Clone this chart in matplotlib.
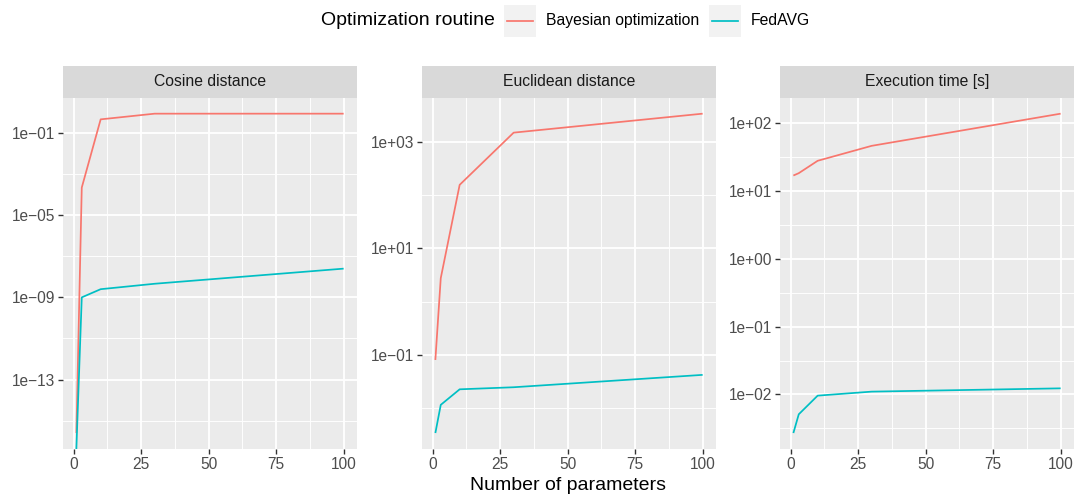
import numpy as np
import matplotlib
matplotlib.use("Agg")
import matplotlib.pyplot as plt
from matplotlib.patches import Rectangle
from matplotlib.lines import Line2D
from matplotlib.ticker import FixedLocator, NullFormatter

# ---- data ---------------------------------------------------------------
n_params = [1, 3, 10, 30, 100]
routines = ["Bayesian optimization", "FedAVG"]
colors = ["#F8766D", "#00BFC4"]
metrics = ["Cosine distance", "Euclidean distance", "Execution time [s]"]

cosine_bayes = [2.5e-16, 2.2e-4, 0.46, 0.87, 0.87]
cosine_fedavg = [0.0, 1.0e-9, 2.5e-9, 4.6e-9, 2.5e-8]
euclid_bayes = [0.08, 2.75, 155.0, 1480.0, 3360.0]
euclid_fedavg = [0.0034, 0.0115, 0.0225, 0.0246, 0.042]
time_bayes = [16.8, 18.2, 27.7, 46.0, 137.0]
time_fedavg = [0.0027, 0.0051, 0.0096, 0.011, 0.0123]

series = {
    "Cosine distance": [cosine_bayes, cosine_fedavg],
    "Euclidean distance": [euclid_bayes, euclid_fedavg],
    "Execution time [s]": [time_bayes, time_fedavg],
}

# major y breaks (log10 exponents) for each facet
y_breaks = {
    "Cosine distance": [-13, -9, -5, -1],
    "Euclidean distance": [-1, 1, 3],
    "Execution time [s]": [-2, -1, 0, 1, 2],
}
x_breaks = [0, 25, 50, 75, 100]

# ---- styling ------------------------------------------------------------
W, H = 1078, 497
plt.rcParams["font.family"] = ["Liberation Sans", "DejaVu Sans"]
SMALL = 11.3
TICK = 11.2
BIG = 14.0
PANEL_BG = "#EBEBEB"
STRIP_BG = "#D9D9D9"
TICK_COL = "#4D4D4D"

fig = plt.figure(figsize=(W / 100, H / 100), dpi=100)


def fx(px):
    return px / W


def fy(py):
    return 1 - py / H


panel_left = [63, 422, 780]
panel_w = 294
panel_top, panel_bot = 97.7, 449
strip_top = 66


def log_label(e):
    return "1e{}{:02d}".format("+" if e >= 0 else "\u2212", abs(e))


for i, metric in enumerate(metrics):
    left = panel_left[i]
    ax = fig.add_axes([fx(left), fy(panel_bot), fx(panel_w), (panel_bot - panel_top) / H])
    ax.set_facecolor(PANEL_BG)
    for s in ax.spines.values():
        s.set_visible(False)

    vals = series[metric]
    pos = np.concatenate([np.asarray(v, float)[np.asarray(v) > 0] for v in vals])
    lo, hi = np.log10(pos.min()), np.log10(pos.max())
    pad = 0.05 * (hi - lo)
    ymin, ymax = 10 ** (lo - pad), 10 ** (hi + pad)

    ax.set_yscale("log")
    for v, c in zip(vals, colors):
        v = np.asarray(v, float)
        # non-positive values are placed on the lower panel edge
        v = np.where(v > 0, v, ymin)
        ax.plot(n_params, v, color=c, lw=1.25, solid_capstyle="butt", zorder=3)

    ax.set_ylim(ymin, ymax)
    xr = max(n_params) - min(n_params)
    ax.set_xlim(min(n_params) - 0.05 * xr, max(n_params) + 0.05 * xr)

    br = y_breaks[metric]
    step = br[1] - br[0]
    ax.yaxis.set_major_locator(FixedLocator([10.0 ** e for e in br]))
    ax.set_yticklabels([log_label(e) for e in br])
    minor_e = [br[0] - step / 2] + [e + step / 2 for e in br]
    ax.yaxis.set_minor_locator(FixedLocator([10.0 ** e for e in minor_e]))
    ax.yaxis.set_minor_formatter(NullFormatter())

    ax.xaxis.set_major_locator(FixedLocator(x_breaks))
    ax.set_xticklabels([str(x) for x in x_breaks])
    ax.xaxis.set_minor_locator(FixedLocator([x + 12.5 for x in x_breaks[:-1]]))

    ax.grid(which="major", color="white", lw=1.3, zorder=0)
    ax.grid(which="minor", color="white", lw=0.65, zorder=0)
    ax.set_axisbelow(True)
    ax.tick_params(which="major", length=3.3, width=1.0, color="#333333",
                   labelsize=TICK, labelcolor=TICK_COL, pad=2.2)
    ax.tick_params(which="minor", length=0)

    # facet strip
    sax = fig.add_axes([fx(left), fy(panel_top), fx(panel_w), (panel_top - strip_top) / H])
    sax.set_facecolor(STRIP_BG)
    sax.set_xticks([])
    sax.set_yticks([])
    for s in sax.spines.values():
        s.set_visible(False)
    sax.text(0.5, 0.5, metric, ha="center", va="center", fontsize=SMALL,
             color="#1A1A1A", transform=sax.transAxes)

# shared x-axis title
fig.text(fx((63 + 1074) / 2), fy(485), "Number of parameters", ha="center",
         va="center", fontsize=BIG, color="black")

# ---- legend on top --------------------------------------------------------
leg_cy = 20.8
fig.text(fx(320.7), fy(leg_cy), "Optimization routine", ha="left", va="center",
         fontsize=BIG, color="black")
key_x = [504, 709.3]
text_x = [545.7, 750.7]
for kx, tx, lab, c in zip(key_x, text_x, routines, colors):
    fig.add_artist(Rectangle((fx(kx), fy(36.7)), fx(31.7), 31.7 / H,
                             transform=fig.transFigure, facecolor="#F2F2F2",
                             edgecolor="none"))
    fig.add_artist(Line2D([fx(kx + 3), fx(kx + 28.7)], [fy(leg_cy), fy(leg_cy)],
                          transform=fig.transFigure, color=c, lw=1.25))
    fig.text(fx(tx), fy(leg_cy), lab, ha="left", va="center", fontsize=SMALL,
             color="black")

fig.savefig("out.png", dpi=100, facecolor="white")
